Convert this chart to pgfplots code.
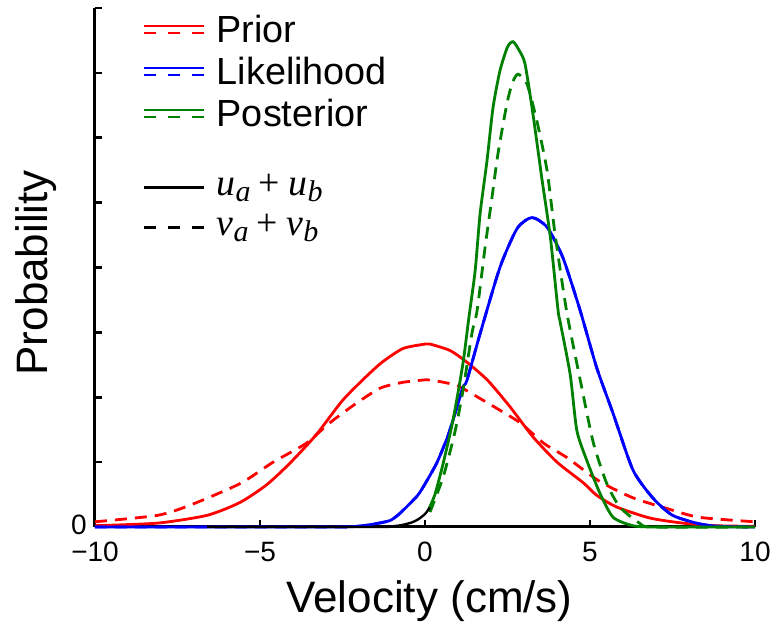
\documentclass[border=0pt]{standalone}
\usepackage{pgfplots}
\pgfplotsset{compat=1.18}
\usepackage{fontspec}
\setmainfont{Liberation Sans}
\newfontfamily\serifit{Liberation Serif}
\definecolor{pgreen}{RGB}{0,128,0}
\newcommand{\mvar}[2]{{\serifit\itshape #1}\raisebox{-6bp}{\fontsize{30bp}{30bp}\selectfont\serifit\itshape #2}}
\newcommand{\msum}[1]{\mvar{#1}{a}\hspace{0.22em}{\serifit +}\hspace{0.22em}\mvar{#1}{b}}
\begin{document}
\begin{tikzpicture}
\begin{axis}[
  width=660bp, height=519bp, scale only axis,
  xmin=-10, xmax=10, ymin=0, ymax=8,
  axis lines=left,
  axis line style={-, line width=3bp},
  clip=false,
  tick align=inside,
  major tick length=7bp,
  every tick/.style={black, line width=2.6bp},
  xtick={-10,-5,0,5,10},
  xticklabels={−10,−5,0,5,10},
  ytick={0,1,2,3,4,5,6,7,8},
  yticklabels={0,{},{},{},{},{},{},{},{}},
  tick label style={font=\fontsize{28bp}{28bp}\selectfont},
  xticklabel style={anchor=north, inner sep=0pt, yshift=-15bp},
  yticklabel style={anchor=east, inner sep=0pt, xshift=-8bp, yshift=2bp},
  label style={font=\fontsize{44bp}{44bp}\selectfont},
  xlabel={Velocity (cm/s)},
  ylabel={Probability},
  xlabel style={at={(axis description cs:0.507,-0.1638)}, anchor=base},
  ylabel style={at={(axis description cs:-0.0727,0.490)}, anchor=base},
  legend style={draw=none, fill=none, at={(rel axis cs:0.0727,0.999)}, anchor=north west,
    inner sep=0pt, outer sep=0pt, row sep=0pt, column sep=11bp,
    font=\fontsize{37.8bp}{40bp}\selectfont,
    nodes={inner sep=0pt, text height=33.5bp, text depth=8.5bp}},
  legend cell align=left,
  cells={anchor=west},
  every axis plot/.append style={smooth, tension=0.4},
]
% Prior solid
\addplot[forget plot, red, line width=2.8bp] coordinates {
(-10,0.02)(-8.1,0.06)(-6.6,0.18)(-5.6,0.38)(-4.8,0.65)(-4.1,0.98)(-3.3,1.42)(-2.5,1.95)(-1.8,2.31)(-1.3,2.54)(-0.67,2.75)(0,2.82)(0.15,2.82)(0.76,2.72)(1.27,2.54)(1.9,2.26)(2.58,1.85)(3.27,1.39)(4.0,1.0)(4.8,0.68)(5.2,0.49)(5.8,0.31)(6.8,0.14)(7.8,0.06)(8.8,0.02)(10,0.01)};
% Prior dashed
\addplot[forget plot, red, line width=2.8bp, dash pattern=on 12bp off 8bp] coordinates {
(-10,0.08)(-8.1,0.18)(-7.1,0.34)(-5.6,0.67)(-4.6,1.0)(-3.6,1.29)(-2.9,1.6)(-2.1,1.9)(-1.36,2.14)(-0.67,2.23)(0.05,2.27)(0.25,2.26)(0.97,2.18)(1.67,1.98)(2.27,1.8)(2.9,1.6)(3.6,1.29)(4.3,1.07)(5.3,0.70)(6.3,0.45)(7.3,0.29)(8.3,0.15)(10,0.08)};
% Likelihood dashed (coincides with solid)
\addplot[forget plot, blue, line width=2.8bp, dash pattern=on 12bp off 8bp] coordinates {
(-10,0)(-3,0)(-2.06,0.01)(-1.5,0.05)(-1.06,0.1)(-0.76,0.21)(-0.25,0.47)(-0.05,0.62)(0.35,0.98)(0.67,1.37)(0.85,1.65)(1.15,2.15)(1.27,2.26)(1.67,2.98)(2.27,4.0)(2.79,4.6)(3.24,4.77)(3.7,4.62)(4.18,4.15)(4.7,3.34)(5.2,2.46)(5.7,1.75)(6.3,0.88)(6.9,0.45)(7.5,0.18)(8.3,0.05)(8.9,0.01)(10,0)};
% Likelihood solid
\addplot[forget plot, blue, line width=2.8bp] coordinates {
(-10,0)(-3,0)(-2.06,0.01)(-1.5,0.05)(-1.06,0.1)(-0.76,0.21)(-0.25,0.47)(-0.05,0.62)(0.35,0.98)(0.67,1.37)(0.85,1.65)(1.15,2.15)(1.27,2.26)(1.67,2.98)(2.27,4.0)(2.79,4.6)(3.24,4.77)(3.7,4.62)(4.18,4.15)(4.7,3.34)(5.2,2.46)(5.7,1.75)(6.3,0.88)(6.9,0.45)(7.5,0.18)(8.3,0.05)(8.9,0.01)(10,0)};
% Posterior dashed
\addplot[forget plot, pgreen, line width=2.8bp, dash pattern=on 12bp off 8bp] coordinates {
(0.15,0.23)(0.55,0.77)(0.9,1.45)(1.15,2.1)(1.42,2.98)(1.58,3.34)(1.82,4.31)(2.03,5.08)(2.21,5.75)(2.48,6.52)(2.65,6.85)(2.82,6.98)(3.09,6.83)(3.39,6.26)(3.7,5.49)(3.94,4.52)(4.3,3.3)(4.75,2.15)(5.1,1.3)(5.5,0.68)(5.9,0.31)(6.5,0.06)(6.9,0)(10,0)};
% Posterior solid
\addplot[forget plot, pgreen, line width=2.8bp] coordinates {
(0.1,0.26)(0.3,0.5)(0.55,0.98)(0.85,1.65)(1.15,2.52)(1.33,3.23)(1.52,3.95)(1.67,4.83)(1.88,5.65)(2.06,6.46)(2.27,7.03)(2.5,7.4)(2.67,7.48)(2.85,7.35)(3.03,7.14)(3.27,6.37)(3.55,5.34)(3.8,4.46)(4.03,3.35)(4.1,3.15)(4.4,2.35)(4.6,1.49)(4.9,1.03)(5.3,0.52)(5.7,0.15)(6.3,0.02)(7,0)(10,0)};
% black tail
\addplot[forget plot, black, line width=2.4bp] coordinates {
(-6.6,0)(-1.5,0)(-1.0,0.01)(-0.7,0.03)(-0.4,0.07)(-0.2,0.12)(0.0,0.2)(0.15,0.3)};
% legend
\addlegendimage{legend image code/.code={
  \draw[red,line width=2.8bp] (0bp,3.5bp) -- (60bp,3.5bp);
  \draw[red,line width=2.8bp,dash pattern=on 12bp off 12bp] (0bp,-3.5bp) -- (60bp,-3.5bp);}}
\addlegendentry{Prior}
\addlegendimage{legend image code/.code={
  \draw[blue,line width=2.8bp] (0bp,3.5bp) -- (60bp,3.5bp);
  \draw[blue,line width=2.8bp,dash pattern=on 12bp off 12bp] (0bp,-3.5bp) -- (60bp,-3.5bp);}}
\addlegendentry{Likelihood}
\addlegendimage{legend image code/.code={
  \draw[pgreen,line width=2.8bp] (0bp,3.5bp) -- (60bp,3.5bp);
  \draw[pgreen,line width=2.8bp,dash pattern=on 12bp off 12bp] (0bp,-3.5bp) -- (60bp,-3.5bp);}}
\addlegendentry{Posterior}
\addlegendimage{empty legend}
\addlegendentry[text height=33bp, text depth=0bp]{}
\addlegendimage{legend image code/.code={
  \draw[black,line width=2.8bp] (0bp,0bp) -- (60bp,0bp);}}
\addlegendentry[text height=28bp, text depth=12bp]{\msum{u}}
\addlegendimage{legend image code/.code={
  \draw[black,line width=2.8bp,dash pattern=on 12bp off 12bp] (0bp,0bp) -- (60bp,0bp);}}
\addlegendentry[text height=28bp, text depth=12bp]{\msum{v}}
\end{axis}
\path ([xshift=-95bp,yshift=-98bp]current axis.south west) rectangle ([xshift=19bp,yshift=8bp]current axis.north east);
\end{tikzpicture}
\end{document}
